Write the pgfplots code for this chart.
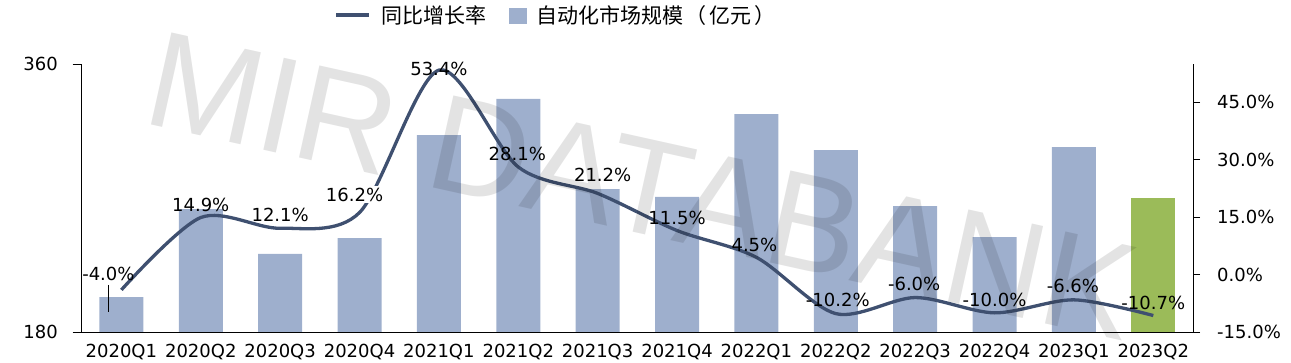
\documentclass[border=0pt]{standalone}
\usepackage{fontspec}
\setmainfont{DejaVu Sans}
\newfontfamily\cjk{Noto Sans CJK SC}
\newfontfamily\wmfont{Liberation Sans}
\usepackage{pgfplots}
\usepackage{pgfplotstable}
\pgfplotsset{compat=1.18}
\definecolor{barblue}{HTML}{9EAFCD}
\definecolor{bargreen}{HTML}{9BBB59}
\definecolor{linecol}{HTML}{3F5070}

\pgfplotstableread{
x v
0 203.5
1 262.6
2 232.4
3 243.1
4 312.3
5 336.5
6 276.0
7 270.7
8 326.4
9 302.2
10 264.6
11 243.8
12 304.2
}\market
\pgfplotstableread{
x v
13 270.0
}\marketlast
\pgfplotstableread{
x g dx dy bg
0 -4.0 -13 16 0
1 14.9 0 13 0
2 12.1 0 13 0
3 16.2 -5 18 1
4 53.4 0 1 0
5 28.1 -1 13 0
6 21.2 5 18 0
7 11.5 0 13 0
8 4.5 -2 12 0
9 -10.2 2 13.5 0
10 -6.0 -1 13.5 0
11 -10.0 0 13 0
12 -6.6 -1 13.5 0
13 -10.7 0 13 0
}\growth

\begin{document}
\begin{tikzpicture}
\path[use as bounding box] (0,0) rectangle (1291pt,363pt);
\begin{axis}[
  scale only axis, width=1111.3pt, height=268pt,
  at={(81.7pt,31pt)}, anchor=south west,
  xmin=-0.5, xmax=13.5, ymin=180, ymax=360,
  axis x line*=bottom, axis y line*=left,
  axis line style={-, black, line width=0.9pt},
  xtick={0,...,13},
  xticklabels={2020Q1,2020Q2,2020Q3,2020Q4,2021Q1,2021Q2,2021Q3,2021Q4,2022Q1,2022Q2,2022Q3,2022Q4,2023Q1,2023Q2},
  x tick style={draw=none},
  ytick={180,360},
  y tick style={black, line width=0.9pt},
  tick align=outside, major tick length=9pt,
  tick label style={font=\fontsize{18}{21}\selectfont},
  xticklabel style={anchor=north, inner sep=0pt, yshift=-3pt},
  yticklabel style={anchor=east, inner sep=0pt, xshift=-14.7pt},
  /pgf/number format/assume math mode=true,
]
\addplot[ybar, bar width=44pt, bar shift=0pt, fill=barblue, draw=none] table[x=x, y=v] {\market};
\addplot[ybar, bar width=44pt, bar shift=0pt, fill=bargreen, draw=none] table[x=x, y=v] {\marketlast};
\end{axis}
\begin{axis}[
  scale only axis, width=1111.3pt, height=268pt,
  at={(81.7pt,31pt)}, anchor=south west,
  xmin=-0.5, xmax=13.5, ymin=-15, ymax=55,
  axis x line=none, axis y line*=right,
  axis line style={-, black, line width=0.9pt},
  ytick={-15,0,15,30,45},
  yticklabel={\pgfmathprintnumber[fixed,fixed zerofill,precision=1]{\tick}\%},
  y tick style={black, line width=0.9pt},
  tick align=outside, major tick length=7pt,
  tick label style={font=\fontsize{18}{21}\selectfont},
  yticklabel style={anchor=west, inner sep=0pt, xshift=17pt},
  /pgf/number format/assume math mode=true,
  clip=false,
  legend style={at={(0.4259,1.181)}, anchor=center, draw=none, fill=none,
    legend columns=2, font=\cjk\fontsize{21}{24}\selectfont,
    nodes={inner sep=0pt},
    /tikz/every odd column/.append style={column sep=10pt},
    /tikz/every even column/.append style={column sep=23pt}},
]
\addlegendimage{legend image code/.code={\draw[linecol, line width=4pt] (0pt,0pt) -- (33pt,0pt);}}
\addlegendentry{同比增长率}
\addlegendimage{legend image code/.code={\fill[barblue] (0pt,-7.5pt) rectangle (17pt,7.5pt);}}
\addlegendentry{自动化市场规模\hspace{2pt}（\hspace{3pt}亿元\hspace{3pt}）}
\addplot[smooth, linecol, line width=3.3pt, no marks, forget plot,
  visualization depends on={\thisrow{dx}\as\ldx},
  visualization depends on={\thisrow{dy}\as\ldy},
  visualization depends on={\thisrow{bg}\as\lbg},
  nodes near coords={\pgfmathprintnumber[fixed,fixed zerofill,precision=1]{\pgfplotspointmeta}\%},
  every node near coord/.append style={anchor=center, text=black, fill=white, fill opacity=\lbg, text opacity=1,
    xshift=\ldx pt, yshift=\ldy pt, font=\fontsize{18}{21}\selectfont, inner sep=2pt},
] table[x=x, y=g] {\growth};
\draw[black, line width=0.7pt] (axis cs:-0.165,-2.7) -- (axis cs:-0.165,-9.7);
\end{axis}
\pgfinterruptboundingbox
\node[rotate=-12.5, font=\wmfont\fontsize{137}{137}\selectfont, text=black, opacity=0.11, inner sep=0pt] at (642pt,177pt) {MIR DATABANK};
\endpgfinterruptboundingbox
\end{tikzpicture}
\end{document}
